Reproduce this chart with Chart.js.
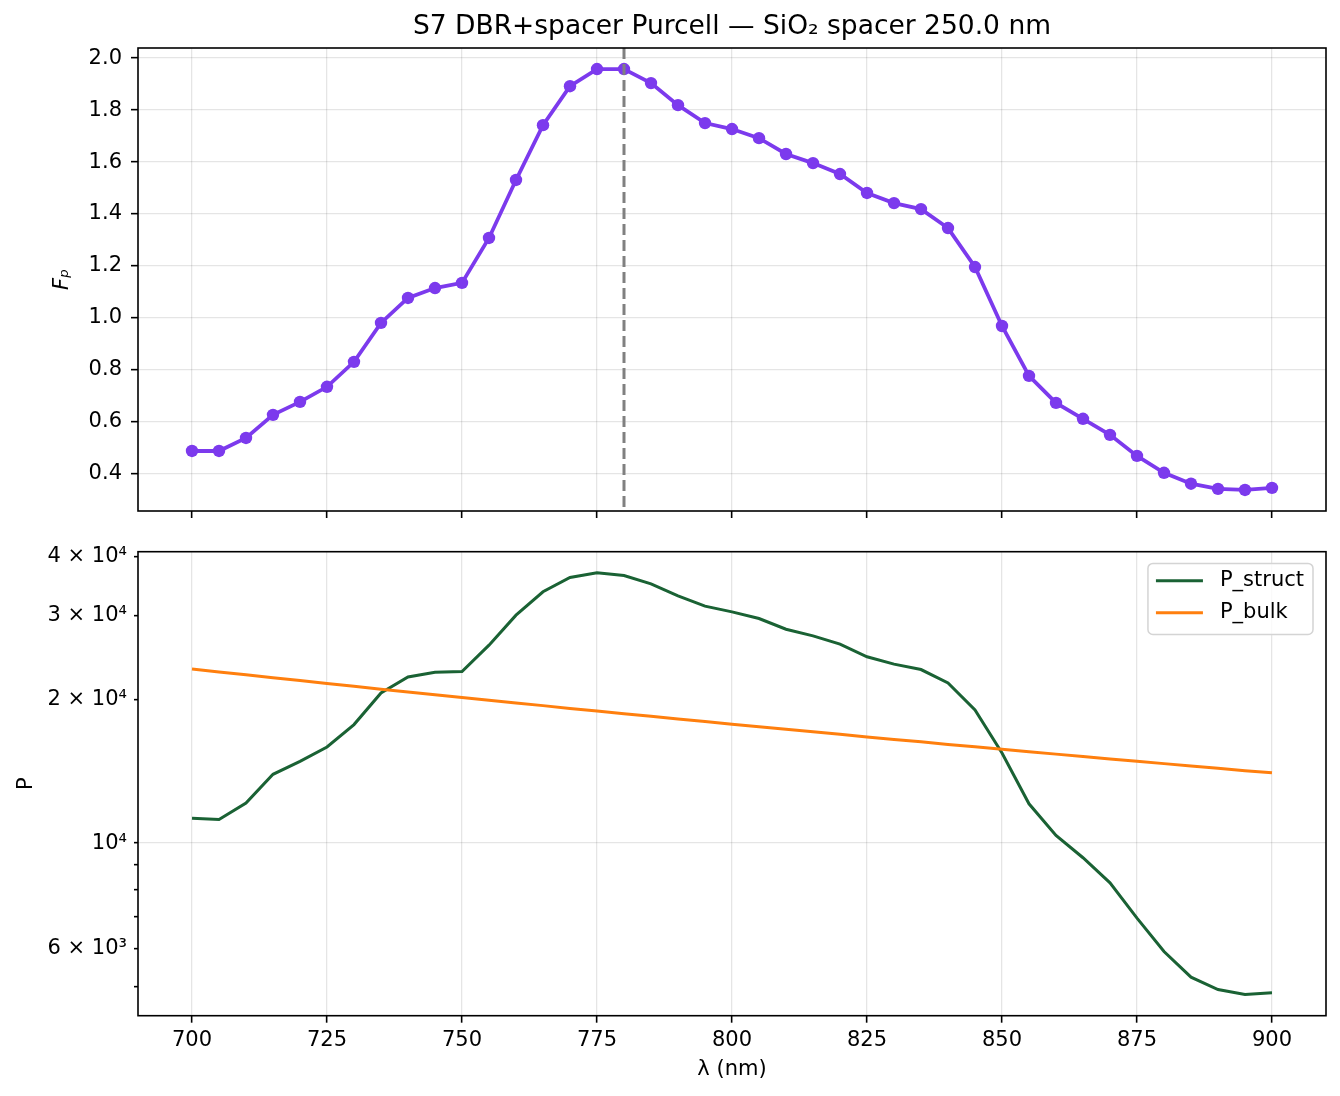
<!DOCTYPE html>
<html>
<head>
<meta charset="utf-8">
<script src="https://cdn.jsdelivr.net/npm/chart.js@4.4.0/dist/chart.umd.min.js"></script>
<style>
  html, body { margin: 0; padding: 0; background: #fff; }
  #wrap { position: relative; width: 1340px; height: 1096px; }
  canvas { position: absolute; left: 0; }
  #top { top: 0; }
  #bottom { top: 530px; }
</style>
</head>
<body>
<div id="wrap">
  <canvas id="top" width="1340" height="530"></canvas>
  <canvas id="bottom" width="1340" height="566"></canvas>
</div>
<script>
const wavelengths = [700, 705, 710, 715, 720, 725, 730, 735, 740, 745, 750, 755, 760, 765, 770, 775, 780, 785, 790, 795,
  800, 805, 810, 815, 820, 825, 830, 835, 840, 845, 850, 855, 860, 865, 870, 875, 880, 885, 890, 895, 900]
const fp = [0.488, 0.488, 0.538, 0.627, 0.677, 0.735, 0.831, 0.981, 1.077, 1.115, 1.135, 1.308, 1.531, 1.742, 1.892,
  1.958, 1.958, 1.904, 1.819, 1.750, 1.727, 1.692, 1.631, 1.596, 1.554, 1.481, 1.442, 1.419, 1.346, 1.196,
  0.969, 0.777, 0.673, 0.612, 0.550, 0.469, 0.404, 0.362, 0.342, 0.338, 0.346]
const pStruct = [11280, 11210, 12130, 13940, 14840, 15910, 17730, 20660, 22320, 22830, 22900, 26020, 30080, 33680,
  36090, 36910, 36440, 35000, 33030, 31420, 30570, 29600, 28110, 27220, 26150, 24600, 23740, 23130, 21680, 19030,
  15450, 12090, 10380, 9315, 8254, 6959, 5922, 5231, 4928, 4810, 4849]
const pBulk = [23200, 22870, 22550, 22240, 21930, 21630, 21330, 21040, 20760, 20480, 20210, 19940, 19680, 19430,
  19170, 18930, 18690, 18450, 18220, 17990, 17760, 17540, 17330, 17120, 16910, 16700, 16500, 16310, 16110, 15920,
  15730, 15550, 15370, 15190, 15020, 14850, 14680, 14510, 14350, 14190, 14040]

const xTicks = [700, 725, 750, 775, 800, 825, 850, 875, 900]
const fpTicks = [0.4, 0.6, 0.8, 1.0, 1.2, 1.4, 1.6, 1.8, 2.0]
const pTicks = [5000, 6000, 7000, 8000, 9000, 10000, 20000, 30000, 40000]
const pTickLabels = { 6000: '6 × 10³', 10000: '10⁴', 20000: '2 × 10⁴', 30000: '3 × 10⁴', 40000: '4 × 10⁴' }
const resonanceNm = 780
const titleText = 'S7 DBR+spacer Purcell — SiO₂ spacer 250.0 nm'

Chart.defaults.font.family = '"DejaVu Sans", sans-serif'
Chart.defaults.font.size = 21
Chart.defaults.color = '#000'

const pts = ys => wavelengths.map((x, i) => ({ x, y: ys[i] }))
const setTicks = list => scale => { scale.ticks = list.map(v => ({ value: v })) }
// fixed axis width, and no extra room asked for the end labels
const fixWidth = w => s => {
  s.width = w
  s.paddingTop = 0
  s.paddingBottom = 0
}

const gridStyle = {
  color: 'rgba(0,0,0,0.1)',
  lineWidth: 1.3,
  tickColor: '#000',
  tickWidth: 1.6,
  tickLength: 7,
}

// matplotlib style box round the axes
const frame = {
  id: 'frame',
  afterDatasetsDraw(chart) {
    const { ctx, chartArea: a } = chart
    ctx.save()
    ctx.strokeStyle = '#000'
    ctx.lineWidth = 1.6
    ctx.strokeRect(a.left, a.top, a.right - a.left, a.bottom - a.top)
    ctx.restore()
  },
}

// title centred over the axes, not the whole canvas
const axesTitle = {
  id: 'axesTitle',
  afterDraw(chart) {
    const { ctx, chartArea: a } = chart
    ctx.save()
    ctx.font = '26.5px "DejaVu Sans"'
    ctx.fillStyle = '#000'
    ctx.textAlign = 'center'
    ctx.textBaseline = 'middle'
    ctx.fillText(titleText, (a.left + a.right) / 2, a.top - 21)
    ctx.restore()
  },
}

const markLine = {
  id: 'markLine',
  afterDatasetsDraw(chart) {
    const { ctx, chartArea: a } = chart
    const x = chart.scales.x.getPixelForValue(resonanceNm)
    ctx.save()
    ctx.strokeStyle = '#808080'
    ctx.lineWidth = 3
    ctx.setLineDash([11, 5])
    ctx.beginPath()
    ctx.moveTo(x, a.top)
    ctx.lineTo(x, a.bottom)
    ctx.stroke()
    ctx.restore()
  },
}

const boxLegend = {
  id: 'boxLegend',
  afterDraw(chart) {
    const { ctx, chartArea: a } = chart
    const sets = chart.data.datasets
    ctx.save()
    ctx.font = '21px "DejaVu Sans"'
    const textW = Math.max(...sets.map(d => ctx.measureText(d.label).width))
    const pad = 8, handle = 47, gap = 17, row = 32
    const w = pad + handle + gap + textW + pad + 1
    const h = 71
    const x0 = a.right - 13 - w
    const y0 = a.top + 11.7
    ctx.beginPath()
    ctx.roundRect(x0, y0, w, h, 5)
    ctx.fillStyle = 'rgba(255,255,255,0.8)'
    ctx.fill()
    ctx.strokeStyle = '#d4d4d4'
    ctx.lineWidth = 1.5
    ctx.stroke()
    sets.forEach((d, i) => {
      const cy = y0 + 17.3 + i * row
      ctx.strokeStyle = d.borderColor
      ctx.lineWidth = d.borderWidth
      ctx.beginPath()
      ctx.moveTo(x0 + pad, cy)
      ctx.lineTo(x0 + pad + handle, cy)
      ctx.stroke()
      ctx.fillStyle = '#000'
      ctx.textBaseline = 'middle'
      ctx.fillText(d.label, x0 + pad + handle + gap, cy)
    })
    ctx.restore()
  },
}

new Chart(document.getElementById('top'), {
  type: 'line',
  data: {
    datasets: [
      {
        label: 'Fp',
        data: pts(fp),
        borderColor: '#7c3aed',
        backgroundColor: '#7c3aed',
        borderWidth: 3.8,
        pointRadius: 6.2,
        pointBorderWidth: 0,
      },
    ],
  },
  options: {
    responsive: false,
    animation: false,
    layout: { padding: { left: 46, right: 14, top: 48, bottom: 0 } },
    plugins: {
      legend: { display: false },
      tooltip: { enabled: false },
      title: { display: false },
    },
    scales: {
      x: {
        type: 'linear',
        min: 690,
        max: 910,
        afterBuildTicks: setTicks(xTicks),
        ticks: { callback: () => '' },
        grid: gridStyle,
        border: { display: false },
        afterFit: s => { s.height = 19 },
      },
      y: {
        type: 'linear',
        min: 0.257,
        max: 2.039,
        afterBuildTicks: setTicks(fpTicks),
        ticks: { callback: v => v.toFixed(1), padding: 9 },
        grid: gridStyle,
        border: { display: false },
        title: { display: true, text: 'Fₚ', font: { style: 'italic' }, padding: { top: 4, bottom: 4 } },
        afterFit: fixWidth(92),
      },
    },
  },
  plugins: [markLine, frame, axesTitle],
})

new Chart(document.getElementById('bottom'), {
  type: 'line',
  data: {
    datasets: [
      { label: 'P_struct', data: pts(pStruct), borderColor: '#1a6234', borderWidth: 3, pointRadius: 0, order: 1 },
      { label: 'P_bulk', data: pts(pBulk), borderColor: '#ff7f0e', borderWidth: 3, pointRadius: 0, order: 0 },
    ],
  },
  options: {
    responsive: false,
    animation: false,
    layout: { padding: { left: 10.4, right: 14, top: 21.7, bottom: 0 } },
    plugins: {
      legend: { display: false },
      tooltip: { enabled: false },
    },
    scales: {
      x: {
        type: 'linear',
        min: 690,
        max: 910,
        afterBuildTicks: setTicks(xTicks),
        ticks: { callback: v => String(v), padding: 5 },
        grid: gridStyle,
        border: { display: false },
        title: { display: true, text: 'λ (nm)', padding: { top: 4, bottom: 14 } },
        afterFit: s => { s.height = 80.3 },
      },
      y: {
        type: 'logarithmic',
        min: 4342,
        max: 40880,
        afterBuildTicks: setTicks(pTicks),
        ticks: { callback: v => pTickLabels[v] || '', padding: 7, autoSkip: false },
        grid: {
          ...gridStyle,
          tickLength: 4,
          color: c => (c.tick && c.tick.value === 10000 ? gridStyle.color : 'transparent'),
        },
        border: { display: false },
        title: { display: true, text: 'P', padding: { top: 4, bottom: 4 } },
        afterFit: fixWidth(127.6),
      },
    },
  },
  plugins: [frame, boxLegend],
})
</script>
</body>
</html>
